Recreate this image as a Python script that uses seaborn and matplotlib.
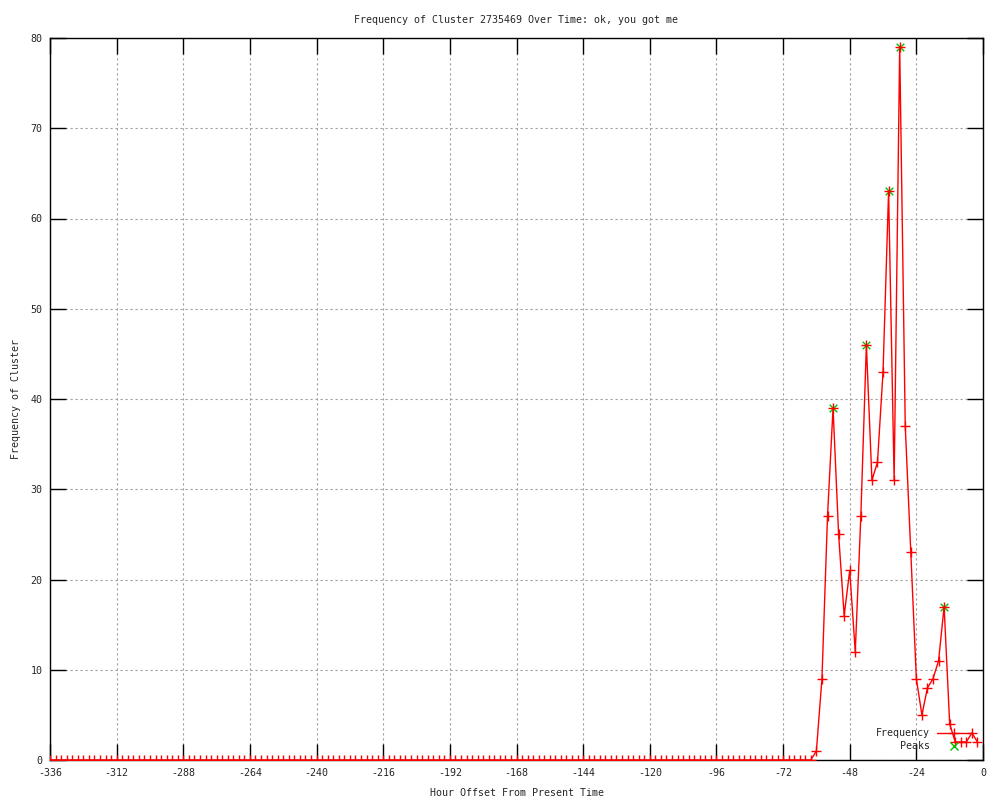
import numpy as np
import matplotlib
matplotlib.use("Agg")
import matplotlib.pyplot as plt
from matplotlib.lines import Line2D
import seaborn as sns

# ---- data ----
hours = np.arange(-336, 0, 2)  # -336 .. -2 every 2 hours
frequency = [
    0, 0, 0, 0, 0, 0, 0, 0, 0, 0, 0, 0, 0, 0, 0, 0, 0, 0, 0, 0,
    0, 0, 0, 0, 0, 0, 0, 0, 0, 0, 0, 0, 0, 0, 0, 0, 0, 0, 0, 0,
    0, 0, 0, 0, 0, 0, 0, 0, 0, 0, 0, 0, 0, 0, 0, 0, 0, 0, 0, 0,
    0, 0, 0, 0, 0, 0, 0, 0, 0, 0, 0, 0, 0, 0, 0, 0, 0, 0, 0, 0,
    0, 0, 0, 0, 0, 0, 0, 0, 0, 0, 0, 0, 0, 0, 0, 0, 0, 0, 0, 0,
    0, 0, 0, 0, 0, 0, 0, 0, 0, 0, 0, 0, 0, 0, 0, 0, 0, 0, 0, 0,
    0, 0, 0, 0, 0, 0, 0, 0, 0, 0, 0, 0, 0, 0, 0, 0, 0, 0,
    1, 9, 27, 39, 25, 16, 21, 12, 27, 46,
    31, 33, 43, 63, 31, 79, 37, 23, 9, 5,
    8, 9, 11, 17, 4, 2, 2, 2, 3, 2,
]
peak_hours = [-54, -42, -34, -30, -14]
peak_values = [39, 46, 63, 79, 17]

title = "Frequency of Cluster 2735469 Over Time: ok, you got me"
x_label = "Hour Offset From Present Time"
y_label = "Frequency of Cluster"
legend_labels = ["Frequency", "Peaks"]
x_ticks = list(range(-336, 1, 24))
y_ticks = list(range(0, 81, 10))

# ---- style ----
sns.set_style("white")
plt.rcParams["font.family"] = ["DejaVu Sans Mono", "DejaVu Sans"]
plt.rcParams["axes.unicode_minus"] = False
FS = 7.2
RED = "red"
GREEN = "#00c000"

fig = plt.figure(figsize=(10, 8), dpi=100)
ax = fig.add_axes([0.05, 0.05, 0.933, 0.9025])

sns.lineplot(x=hours, y=frequency, ax=ax, color=RED, lw=1.0,
             marker="+", markersize=6.5, markeredgewidth=1.0,
             markeredgecolor=RED, zorder=3, legend=False)
sns.scatterplot(x=peak_hours, y=peak_values, ax=ax, marker="x",
                color=GREEN, s=30, linewidth=1.0, zorder=2, legend=False)

ax.set_xlim(-336, 0)
ax.set_ylim(0, 80)
ax.set_xticks(x_ticks)
ax.set_yticks(y_ticks)
ax.set_xticklabels([str(t) for t in x_ticks], fontsize=FS)
ax.set_yticklabels([str(t) for t in y_ticks], fontsize=FS)

ax.grid(True, color="#a0a0a0", linestyle=(0, (2, 2.5)), linewidth=0.8)
ax.set_axisbelow(True)
ax.tick_params(axis="both", which="major", direction="in", length=11.5,
               width=1.0, color="black", top=True, right=True,
               bottom=True, left=True)
ax.tick_params(axis="x", pad=6)
ax.tick_params(axis="y", pad=5.5)
for s in ax.spines.values():
    s.set_color("black")
    s.set_linewidth(1.0)

ax.set_title(title, fontsize=FS, pad=11)
ax.set_xlabel(x_label, fontsize=FS, labelpad=7)
ax.set_ylabel(y_label, fontsize=FS, labelpad=6.5)

# ---- key (gnuplot style, bottom right, right-aligned text) ----
tr = ax.transAxes
key_rows = [0.0374, 0.0194]
ax.text(0.943, key_rows[0], legend_labels[0], transform=tr, ha="right",
        va="center", fontsize=FS)
ax.text(0.943, key_rows[1], legend_labels[1], transform=tr, ha="right",
        va="center", fontsize=FS)
ax.add_line(Line2D([0.9507, 0.988], [key_rows[0], key_rows[0]],
                   transform=tr, color=RED, lw=1.0, zorder=4))
ax.add_line(Line2D([0.969], [key_rows[0]], transform=tr, color=RED,
                   marker="+", markersize=6.5, markeredgewidth=1.0,
                   lw=0, zorder=4))
ax.add_line(Line2D([0.969], [key_rows[1]], transform=tr, color=GREEN,
                   marker="x", markersize=5.5, markeredgewidth=1.0,
                   lw=0, zorder=4))

fig.savefig("out.png", dpi=100)
